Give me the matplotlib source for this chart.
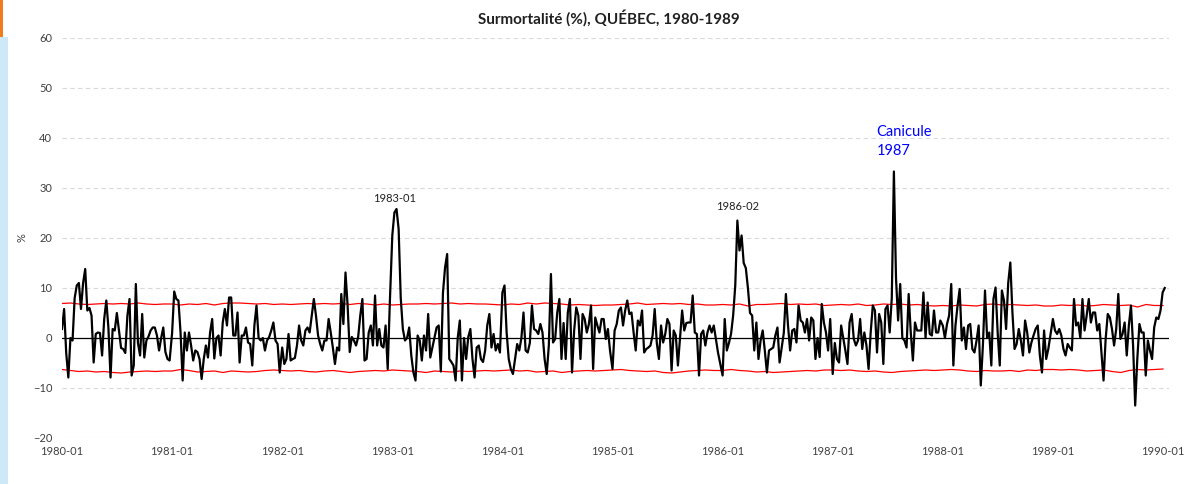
import numpy as np
import matplotlib
matplotlib.use("Agg")
import matplotlib.pyplot as plt
from matplotlib.patches import Rectangle

# -----------------------------------------------------------------------
# Data (weekly excess mortality, %)
# -----------------------------------------------------------------------

surmort_1980 = [1.8, 5.8, -3, -7.9, 0, -0.5, 8, 10.5, 11, 5.8, 11, 13.8, 5.5, 6, 4.5, -4.9,
                0.8, 1.1, 1, -3.5, 3.8, 7.5, 2, -7.9, 1.8, 1.5, 5, 1.5, -2, -2.2, -3, 4.5,
                7.8, -7.5, -5.5, 10.8, -1, -3.5, 4.8, -3.9, -0.5, 0.3, 1.5, 2.1, 2.1, 0.5,
                -2.5, 0, 2.1, -2.8, -4.2, -4.5]
surmort_1981 = [1, 9.3, 7.8, 7.5, 1.1, -8.5, 1.1, -2.5, 1.1, -1.5, -4.5, -2.5, -2.8, -4.2,
                -8.2, -4.2, -1.5, -3.9, 1.1, 3.8, -4.1, 0, 0.5, -3.5, 3.1, 5.8, 2.5, 8.1,
                8.1, 0.5, 0.5, 5.1, -4.9, 0.5, 0.5, 2.1, -0.9, -1.2, -5.5, 2.5, 6.5, 0,
                -0.5, 0, -2.5, -0.5, 0.2, 1.5, 3.1, -0.5, -1.2, -6.9]
surmort_1982 = [-1.9, -5.2, -4.2, 0.8, -4.5, -4.2, -4, -1.5, 2.5, -0.5, -1.5, 1.5, 2.1, 1.1,
                4.5, 7.8, 4.5, 0.5, -1.2, -2.5, -0.5, -0.5, 3.8, 1.1, -1.9, -5.2, -1.9,
                -2.5, 8.8, 2.8, 13.1, 6.5, -2.8, 0.2, -0.5, -1.5, 0.2, 4.5, 7.8, -4.5,
                -4.2, 1.1, 2.5, -1.5, 8.5, -1.5, 1.8, -1.5, -1.9, 2.5, -6.2, 7]
surmort_1983 = [20.5, 25.1, 25.8, 21.8, 8, 1.8, -0.5, 0, 2.1, -3.5, -6.9, -8.5, 0.5, -0.5,
                -4.5, 0.5, -2.5, 4.8, -3.9, -1.9, 0, 2.1, 2.5, -6.7, 9, 14.1, 16.8, -4.2,
                -4.8, -5.5, -8.5, 0, 3.5, -8.5, 0, -4.2, 0.2, 1.8, -4.2, -7.9, -1.9, -1.5,
                -4.2, -4.8, -2.5, 2.5, 4.8, -1.9, 0.8, -2.5, -1.2, -2.9]
surmort_1984 = [9.1, 10.5, 1.1, -4.2, -6.2, -7.2, -4.2, -1.2, -2.5, 0, 5.1, -2.5, -2.9, -1,
                6.5, 1.8, 1.5, 0.8, 2.8, 1.1, -4.2, -7.2, -1.5, 12.8, -0.9, -0.2, 5.1, 7.8,
                -4.2, 3, -4.2, 5.1, 7.8, -6.9, 1.5, 6.1, 4.5, -4.2, 4.8, 3.8, 1.1, 2.8,
                6.5, -6.2, 4.1, 2.5, 1.1, 3.8, 3.8, -0.2, 1.8, -2.5]
surmort_1985 = [-6.2, 1.5, 2.8, 5.5, 6.1, 2.5, 5.5, 7.5, 4.8, 5.1, 1.1, -2.5, 3.5, 2.5, 5.5,
                -2.9, -2.2, -1.9, -1.5, 0.5, 5.8, -1, -4.2, 2.5, -0.9, 0.8, 3.8, 2.8, -6.5,
                1.5, 0.5, -5.5, 0, 5.5, 1.5, 3, 3.1, 3.1, 8.5, 1.1, 0.8, -7.5, 0.8, 1.5,
                -1.5, 1.1, 2.5, 1.1, 2.5, -0.2, -2.9]
surmort_1986 = [-7.5, 3.8, -2.5, -1, 0.8, 4.5, 10.5, 23.5, 17.5, 20.5, 15, 14, 10, 5, 4.5,
                -2.5, 3.1, -4.2, -0.5, 1.5, -2.5, -6.9, -2.5, -2.2, -1.9, 0.5, 2.1, -4.9,
                -2, 1, 8.8, 2.5, -2.5, 1.5, 1.8, -0.9, 6.5, 3.5, 3.1, 1.1, 3.8, -0.5, 4.1,
                3.5, -4.2, 0, -3.8, 6.8, 3.1, 1.1, -2.5, 3.8]
surmort_1987 = [-7.2, -1, -4.2, -4.9, 2.5, 0, -2.5, -5.2, 3.1, 4.8, -0.2, -1.5, -0.5, 3.8,
                -2.2, 1.1, -1.5, -6.2, 1.1, 6.5, 5.5, -2.9, 4.8, 3.1, -5.2, 5.8, 6.5, 1.1,
                8, 33.3, 12, 3.5, 10.8, 0, -0.5, -1.9, 8.8, 1.1, -4.5, 3.1, 1.5, 1.5, 1.5,
                9.1, 0, 7.1, 0.8, 0.5, 5.5, 1.1, 1.1, 3.5]
surmort_1988 = [2.5, 0, 2.8, 4.5, 10.8, -5.5, 2.5, 6.5, 9.8, -0.5, 2.1, -2.2, 2.5, 2.8, -2.2,
                -2.9, -0.5, 2.5, -9.5, -1.5, 9.5, 0.1, 1.1, -5.5, 7.8, 10.1, 1.1, -5.5, 9.5,
                7.5, 1.8, 11, 15.1, 5.1, -2.2, -1.2, 1.8, -0.5, -3.5, 3.5, 1.1, -2.9, -0.9,
                0.5, 1.8, 2.5, -3.5, -6.9, 1.5, -4.2, -2.2, 0.5]
surmort_1989 = [3.8, 1.5, 0.8, 1.8, 0.5, -2.2, -3.5, -1.2, -1.9, -2.5, 7.8, 2.5, 3.1, 0, 7.8,
                1.5, 4.5, 7.8, 3.1, 5.1, 5.1, 1.5, 2.8, -2.9, -8.5, -0.2, 4.8, 4.1, 1.8,
                -1.5, 1.8, 8.8, -0.2, 0.8, 3.1, -3.5, 2.5, 6.5, -1.5, -13.5, -4.2, 2.8,
                1.1, 1.1, -7.5, -0.5, -2.5, -4.2, 2.1, 4.1, 3.8, 5.5, 9.1, 10]

years = [1980, 1981, 1982, 1983, 1984, 1985, 1986, 1987, 1988, 1989]
surmort = [surmort_1980, surmort_1981, surmort_1982, surmort_1983, surmort_1984,
           surmort_1985, surmort_1986, surmort_1987, surmort_1988, surmort_1989]

# control limits, one value every 4 weeks
limite_sup = [6.9, 7.0, 6.8, 6.7, 6.8, 6.9, 6.8, 6.9, 6.8, 7.0, 6.8, 6.7, 6.8,
              6.8, 6.6, 6.8, 6.7, 6.9, 6.6, 6.9, 7.0, 7.0, 6.9, 6.8, 6.9, 6.7,
              6.8, 6.7, 6.8, 6.9, 6.8, 6.9, 6.8, 6.9, 6.7, 6.9, 6.8, 6.6, 6.8,
              6.6, 6.7, 6.8, 6.8, 6.9, 6.8, 6.9, 7.0, 6.8, 6.9, 6.8, 6.8, 6.7,
              6.6, 6.8, 6.7, 7.0, 6.8, 7.0, 6.9, 6.8, 6.6, 6.7, 6.6, 6.5, 6.6,
              6.6, 6.7, 6.8, 7.0, 6.7, 6.8, 6.9, 6.8, 6.9, 6.7, 6.8, 6.6, 6.6,
              6.7, 6.6, 6.8, 6.4, 6.7, 6.7, 6.8, 6.9, 6.7, 6.8, 6.7, 6.8, 6.5,
              6.6, 6.7, 6.6, 6.8, 6.5, 6.6, 6.8, 6.7, 6.8, 6.6, 6.7, 6.5, 6.4,
              6.5, 6.4, 6.6, 6.5, 6.4, 6.7, 6.8, 6.6, 6.7, 6.6, 6.5, 6.6, 6.4,
              6.4, 6.6, 6.5, 6.6, 6.4, 6.5, 6.7, 6.6, 6.5, 6.6, 6.2, 6.7, 6.5, 6.5]
limite_inf = [-6.3, -6.5, -6.7, -6.6, -6.8, -6.7, -6.9, -7.0, -6.8, -6.7, -6.6, -6.7, -6.6,
              -6.6, -6.3, -6.5, -6.8, -6.7, -6.6, -6.9, -6.6, -6.7, -6.8, -6.7, -6.5, -6.4,
              -6.5, -6.6, -6.5, -6.7, -6.8, -6.6, -6.5, -6.7, -6.9, -6.7, -6.6, -6.5, -6.6,
              -6.4, -6.5, -6.6, -6.7, -6.9, -6.6, -6.7, -6.8, -6.6, -6.7, -6.6, -6.5, -6.6,
              -6.5, -6.4, -6.6, -6.5, -6.8, -6.7, -6.6, -6.9, -6.7, -6.6, -6.5, -6.6, -6.5,
              -6.4, -6.3, -6.5, -6.6, -6.7, -6.6, -6.9, -7.0, -6.8, -6.6, -6.5, -6.4, -6.5,
              -6.5, -6.3, -6.5, -6.6, -6.8, -6.7, -6.9, -6.8, -6.7, -6.6, -6.5, -6.6, -6.4,
              -6.4, -6.5, -6.4, -6.6, -6.7, -6.6, -6.8, -6.9, -6.7, -6.6, -6.5, -6.4, -6.5,
              -6.4, -6.3, -6.4, -6.6, -6.7, -6.5, -6.6, -6.6, -6.5, -6.7, -6.4, -6.5, -6.3,
              -6.3, -6.4, -6.3, -6.4, -6.6, -6.5, -6.4, -6.7, -6.9, -6.5, -6.3, -6.4, -6.3, -6.2]

tick_labels = [f"{y}-01" for y in years + [1990]]

# -----------------------------------------------------------------------
# Figure
# -----------------------------------------------------------------------

plt.rcParams["font.family"] = ["Lato", "DejaVu Sans"]

W, H = 1203, 484
fig = plt.figure(figsize=(W / 100, H / 100), dpi=100, facecolor="white")

# slide border strip at the left edge of the screenshot
fig.patches.append(Rectangle((0, 0), 8 / W, 1 - 37 / H, transform=fig.transFigure,
                             facecolor="#cde9f8", edgecolor="none"))
fig.patches.append(Rectangle((0, 1 - 37 / H), 3 / W, 37 / H, transform=fig.transFigure,
                             facecolor="#f07c1c", edgecolor="none"))

x_right = 1990.05
ax_w = (1101 * (x_right - 1980) / 10) / W
ax = fig.add_axes([62 / W, 1 - 438 / H, ax_w, 400 / H])

x = np.concatenate([yr + np.arange(len(v)) / 52.18 for yr, v in zip(years, surmort)])
y = np.concatenate(surmort)
x_lim = np.linspace(1980, 1990, len(limite_sup))

ax.plot(x_lim, limite_sup, color="#ff0000", lw=0.9, zorder=3)
ax.plot(x_lim, limite_inf, color="#ff0000", lw=0.9, zorder=3)
ax.axhline(0, color="black", lw=0.9, zorder=2)
ax.plot(x, y, color="black", lw=1.6, zorder=4)

ax.set_xlim(1980, x_right)
ax.set_ylim(-20, 60)
ax.set_yticks(np.arange(-20, 61, 10))
ax.set_xticks(years + [1990])
ax.set_xticklabels(tick_labels)
ax.grid(axis="y", color="#d9d9d9", linestyle=(0, (4, 3)), lw=0.8)
ax.set_axisbelow(True)
for spine in ax.spines.values():
    spine.set_visible(False)
ax.tick_params(length=0, labelsize=8, colors="#404040")
ax.tick_params(axis="x", pad=6)
ax.tick_params(axis="y", pad=7)

# annotations
ax.text(1983.025, 28, "1983-01", ha="center", va="center", fontsize=8, color="#202020")
ax.text(1986.14, 26.4, "1986-02", ha="center", va="center", fontsize=8, color="#202020")
ax.text(1987.40, 39.3, "Canicule\n1987", ha="left", va="center", fontsize=10.5,
        color="#0000ff", linespacing=1.4)

fig.text(0.506, 1 - 18 / H, "Surmortalité (%), QUÉBEC, 1980-1989", ha="center",
         va="center", fontsize=11, fontweight="bold", color="#202020")
fig.text(22 / W, 1 - 238 / H, "%", rotation=90, ha="center", va="center",
         fontsize=8, color="#404040")

fig.savefig("out.png", dpi=100, facecolor=fig.get_facecolor())
